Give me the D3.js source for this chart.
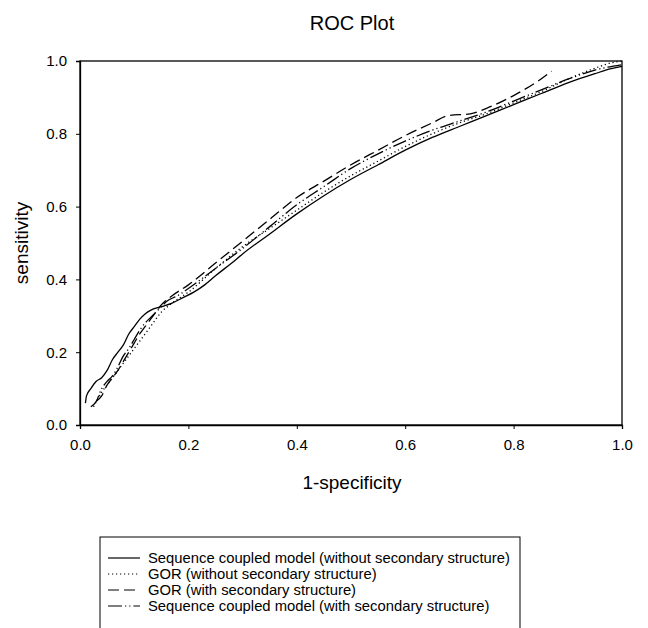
<!DOCTYPE html>
<html>
<head>
<meta charset="utf-8">
<script src="https://cdn.jsdelivr.net/npm/d3@7"></script>
<style>
  body { margin: 0; background: #fff; }
  svg { font-family: "Liberation Sans", Arial, sans-serif; }
</style>
</head>
<body>
<svg id="chart" width="648" height="628"></svg>
<script>

// ROC curves, [1-specificity, sensitivity]
var scmWithout = [[0.01,0.06],[0.012,0.08],[0.02,0.10],[0.03,0.12],[0.04,0.13],[0.05,0.15],[0.06,0.18],
    [0.07,0.20],[0.08,0.22],[0.09,0.25],[0.10,0.27],[0.11,0.29],[0.12,0.305],[0.13,0.315],[0.15,0.325],
    [0.17,0.335],[0.19,0.35],[0.21,0.365],[0.23,0.385],[0.25,0.41],[0.28,0.445],[0.30,0.47],[0.35,0.525],
    [0.40,0.58],[0.45,0.63],[0.50,0.675],[0.55,0.715],[0.60,0.755],[0.65,0.79],[0.70,0.82],[0.75,0.85],
    [0.80,0.88],[0.85,0.91],[0.90,0.94],[0.95,0.965],[0.97,0.975],[1.0,0.985]];

var gorWithout = [[0.025,0.05],[0.04,0.09],[0.05,0.11],[0.07,0.15],[0.09,0.19],[0.11,0.23],[0.13,0.27],
    [0.15,0.31],[0.17,0.335],[0.20,0.365],[0.25,0.43],[0.30,0.49],[0.35,0.54],[0.40,0.59],[0.45,0.64],
    [0.50,0.685],[0.55,0.725],[0.60,0.765],[0.65,0.80],[0.70,0.83],[0.75,0.855],[0.80,0.885],[0.85,0.915],
    [0.90,0.95],[0.95,0.98],[0.98,0.995],[1.0,1.0]];

var gorWith = [[0.03,0.065],[0.04,0.08],[0.05,0.11],[0.06,0.13],[0.07,0.15],[0.08,0.175],[0.09,0.20],
    [0.10,0.225],[0.11,0.25],[0.12,0.27],[0.13,0.29],[0.14,0.31],[0.15,0.33],[0.17,0.355],[0.20,0.385],
    [0.25,0.445],[0.30,0.505],[0.35,0.565],[0.40,0.625],[0.45,0.67],[0.50,0.715],[0.55,0.755],[0.60,0.795],
    [0.65,0.83],[0.68,0.85],[0.72,0.855],[0.75,0.87],[0.80,0.905],[0.85,0.95],[0.87,0.972]];

var scmWith = [[0.02,0.05],[0.03,0.065],[0.04,0.10],[0.05,0.12],[0.06,0.135],[0.07,0.16],[0.08,0.19],
    [0.09,0.21],[0.10,0.235],[0.11,0.26],[0.12,0.28],[0.13,0.295],[0.14,0.31],[0.15,0.325],[0.16,0.34],
    [0.18,0.355],[0.20,0.375],[0.25,0.43],[0.30,0.485],[0.35,0.545],[0.40,0.605],[0.45,0.655],[0.50,0.705],
    [0.55,0.745],[0.60,0.78],[0.65,0.81],[0.70,0.835],[0.75,0.86],[0.80,0.89],[0.85,0.92],[0.90,0.95],
    [0.95,0.975],[1.0,0.99]];

var seriesNames = ["Sequence coupled model (without secondary structure)",
                   "GOR (without secondary structure)",
                   "GOR (with secondary structure)",
                   "Sequence coupled model (with secondary structure)"];
var seriesDash = [null, "1.2,2.8", "11,5", "14,3,1.2,3,1.2,3"];
var tickValues = [0, 0.2, 0.4, 0.6, 0.8, 1.0];

var svg = d3.select("#chart");
// note: "top" clashes with window.top, so use plotTop
var plotLeft = 80, plotTop = 61, width = 542, height = 364;

var x = d3.scaleLinear().domain([0, 1]).range([plotLeft, plotLeft + width]);
var y = d3.scaleLinear().domain([0, 1]).range([plotTop + height, plotTop]);

svg.append("text")
    .attr("x", 352).attr("y", 30)
    .attr("text-anchor", "middle")
    .style("font-size", "20px")
    .text("ROC Plot");

// frame around plot area
svg.append("rect")
    .attr("x", plotLeft).attr("y", plotTop)
    .attr("width", width).attr("height", height)
    .attr("fill", "none").attr("stroke", "#000").attr("stroke-width", 1.3);

var xAxis = svg.append("g")
    .attr("transform", "translate(0," + (plotTop + height) + ")")
    .call(d3.axisBottom(x).tickValues(tickValues).tickFormat(d3.format(".1f"))
        .tickSizeOuter(0).tickSize(4).tickPadding(5));
var yAxis = svg.append("g")
    .attr("transform", "translate(" + plotLeft + ",0)")
    .call(d3.axisLeft(y).tickValues(tickValues).tickFormat(d3.format(".1f"))
        .tickSizeOuter(0).tickSize(4).tickPadding(9));

[xAxis, yAxis].forEach(function (a) {
    a.select(".domain").attr("stroke-width", 1.3);
    a.selectAll("text").style("font-size", "15px").style("font-family", "Liberation Sans, Arial, sans-serif").attr("fill", "#000");
});
xAxis.selectAll("text").attr("dy", "1.05em");

svg.append("text")
    .attr("x", 352).attr("y", 489)
    .attr("text-anchor", "middle")
    .style("font-size", "19px")
    .text("1-specificity");

svg.append("text")
    .attr("transform", "translate(28," + (plotTop + height / 2) + ") rotate(-90)")
    .attr("text-anchor", "middle")
    .style("font-size", "19px")
    .text("sensitivity");

var line = d3.line()
    .x(function (d) { return x(d[0]); })
    .y(function (d) { return y(d[1]); })
    .curve(d3.curveMonotoneX);

var allSeries = [scmWithout, gorWithout, gorWith, scmWith];

svg.selectAll(".roc")
    .data(allSeries)
    .enter()
    .append("path")
    .attr("class", "roc")
    .attr("d", line)
    .attr("fill", "none")
    .attr("stroke", "#000")
    .attr("stroke-width", 1.3)
    .attr("stroke-dasharray", function (d, i) { return seriesDash[i]; });

// legend box runs off the bottom edge like in the scan
var legend = svg.append("g");
legend.append("rect")
    .attr("x", 100).attr("y", 537)
    .attr("width", 420).attr("height", 100)
    .attr("fill", "none").attr("stroke", "#000").attr("stroke-width", 1);

var rows = legend.selectAll(".row")
    .data(seriesNames)
    .enter()
    .append("g")
    .attr("transform", function (d, i) { return "translate(0," + (558 + i * 16) + ")"; });

rows.append("line")
    .attr("x1", 108).attr("x2", 140)
    .attr("stroke", "#000").attr("stroke-width", 1.2)
    .attr("stroke-dasharray", function (d, i) { return seriesDash[i]; });

rows.append("text")
    .attr("x", 148).attr("y", 5)
    .style("font-size", "14.8px")
    .text(function (d) { return d; });

</script>
</body>
</html>
